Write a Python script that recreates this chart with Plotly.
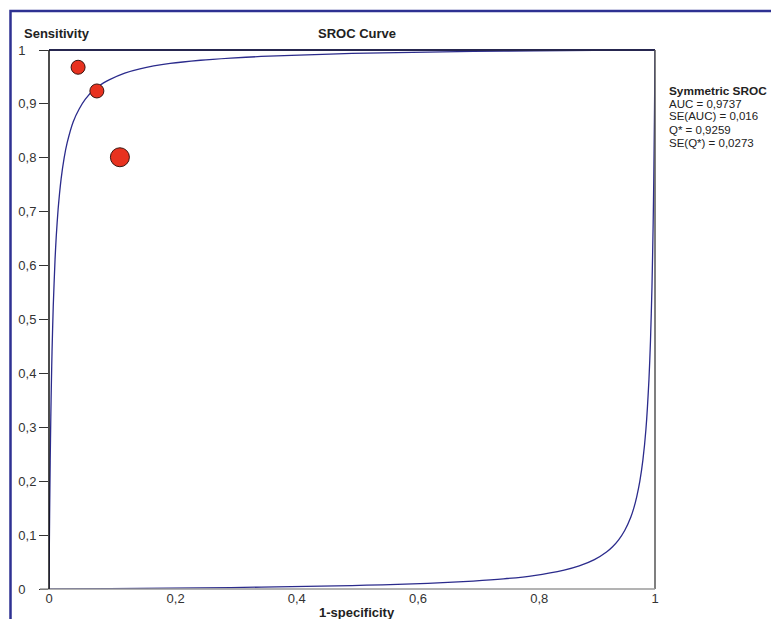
import plotly.graph_objects as go

# Study points (1-specificity, sensitivity, marker size)
study_fpr = [0.048, 0.079, 0.117]
study_sens = [0.968, 0.924, 0.801]
study_size = [14, 14, 19]

# Symmetric SROC curve
curve_fpr = [0.0, 0.0005, 0.001, 0.002, 0.003, 0.004, 0.005, 0.007, 0.01, 0.012, 0.015,
             0.02, 0.025, 0.03, 0.04, 0.05, 0.06, 0.075, 0.09, 0.1, 0.125, 0.15,
             0.2, 0.25, 0.3, 0.35, 0.4, 0.5, 0.6, 0.7, 0.8, 0.9, 1.0]
curve_sens = [0.0, 0.072, 0.135, 0.238, 0.320, 0.385, 0.440, 0.524, 0.612, 0.655, 0.704,
              0.761, 0.800, 0.828, 0.867, 0.891, 0.909, 0.927, 0.939, 0.945, 0.957, 0.965,
              0.975, 0.981, 0.985, 0.988, 0.990, 0.9936, 0.9957, 0.9973, 0.9984, 0.9993, 1.0]

# Mirror branch in the lower right
low_fpr = [0.0, 0.1, 0.2, 0.3, 0.4, 0.5, 0.55, 0.6, 0.65, 0.7, 0.75, 0.8, 0.85, 0.875,
           0.9, 0.92, 0.93, 0.94, 0.95, 0.96, 0.965, 0.97, 0.975, 0.98, 0.985, 0.99,
           0.9925, 0.995, 0.997, 0.998, 0.999, 0.9995, 1.0]
low_sens = [0.0, 0.0007, 0.0016, 0.0027, 0.0043, 0.0064, 0.0078, 0.0095, 0.0118, 0.0147,
            0.0188, 0.025, 0.0351, 0.0429, 0.0545, 0.0686, 0.0784, 0.0912, 0.1085, 0.133,
            0.150, 0.172, 0.200, 0.239, 0.296, 0.388, 0.459, 0.560, 0.680, 0.762, 0.865,
            0.928, 1.0]

NB = "\u00a0"
x_ticks = [0, 0.2, 0.4, 0.6, 0.8, 1]
x_labels = ["0", NB * 3 + "0,2", NB * 3 + "0,4", NB * 3 + "0,6", NB * 3 + "0,8", "1"]
y_ticks = [0, 0.1, 0.2, 0.3, 0.4, 0.5, 0.6, 0.7, 0.8, 0.9, 1]
y_labels = ["0" + NB * 3, "0,1", "0,2", "0,3", "0,4", "0,5", "0,6", "0,7", "0,8", "0,9",
            "1" + NB * 3]

legend_title = "Symmetric SROC"
legend_lines = ["AUC = 0,9737", "SE(AUC) = 0,016", "Q* = 0,9259", "SE(Q*) = 0,0273"]

NAVY = "#2B2B8C"
FONT = "Liberation Sans, Arial, sans-serif"
TXT = "#222222"

fig = go.Figure()
fig.add_trace(go.Scatter(x=curve_fpr, y=curve_sens, mode="lines",
                         line=dict(color=NAVY, width=1.3, shape="spline", smoothing=0.6),
                         hoverinfo="skip"))
fig.add_trace(go.Scatter(x=low_fpr, y=low_sens, mode="lines",
                         line=dict(color=NAVY, width=1.3, shape="spline", smoothing=0.6),
                         hoverinfo="skip"))
fig.add_trace(go.Scatter(x=study_fpr, y=study_sens, mode="markers", cliponaxis=False,
                         opacity=1,
                         marker=dict(size=study_size, color="#E8321F", opacity=1,
                                     line=dict(color="#3a1510", width=1))))

# plot area pixels: x 49..655, y 50..589
L, R, T, B = 49, 655, 50, 589
W, H = R - L, B - T
def px(x):
    return (x - L) / W
def py(y):
    return (B - y) / H

shapes = [
    dict(type="rect", xref="paper", yref="paper", x0=px(10.5), x1=px(790), y0=py(640), y1=py(11),
         line=dict(color="#2E3192", width=2.5), layer="below"),
    dict(type="line", xref="paper", yref="paper", x0=0, x1=1, y0=1, y1=1,
         line=dict(color="#26264f", width=2)),
    dict(type="line", xref="paper", yref="paper", x0=1, x1=1, y0=0, y1=1,
         line=dict(color="#555555", width=1.5)),
    dict(type="line", xref="paper", yref="paper", x0=px(40), x1=1, y0=0, y1=0,
         line=dict(color="#9a9a9a", width=1.5)),
    dict(type="line", xref="paper", yref="paper", x0=0, x1=0, y0=0, y1=1,
         line=dict(color="#111111", width=1.5)),
]

annotations = [
    dict(text="<b>SROC Curve</b>", xref="paper", yref="paper", x=px(356.5), y=py(33),
         showarrow=False, font=dict(size=13, color=TXT, family=FONT), xanchor="center", yanchor="middle"),
    dict(text="<b>Sensitivity</b>", xref="paper", yref="paper", x=px(22), y=py(34),
         showarrow=False, font=dict(size=13, color=TXT, family=FONT), xanchor="left", yanchor="middle"),
    dict(text="<b>1-specificity</b>", xref="paper", yref="paper", x=px(357), y=py(613),
         showarrow=False, font=dict(size=13, color=TXT, family=FONT), xanchor="center", yanchor="middle"),
    dict(text="<b>" + legend_title + "</b>", xref="paper", yref="paper", x=px(667), y=py(90.5),
         showarrow=False, font=dict(size=11.8, color=TXT, family=FONT), xanchor="left", yanchor="middle"),
]
for i, t in enumerate(legend_lines):
    annotations.append(dict(text=t, xref="paper", yref="paper", x=px(667), y=py(103.5 + 13 * i),
                            showarrow=False, font=dict(size=11.5, color=TXT, family=FONT),
                            xanchor="left", yanchor="middle"))

fig.update_layout(
    width=771, height=619,
    margin=dict(l=L, r=771 - R, t=T, b=619 - B),
    paper_bgcolor="white", plot_bgcolor="white",
    showlegend=False,
    shapes=shapes, annotations=annotations,
    font=dict(family=FONT, size=13, color="#333333"),
    xaxis=dict(range=[0, 1], tickvals=x_ticks, ticktext=x_labels, showgrid=False, zeroline=False,
               showline=False, ticks="", tickfont=dict(size=13, color="#333333"), fixedrange=True),
    yaxis=dict(range=[0, 1], tickvals=y_ticks, ticktext=y_labels, showgrid=False, zeroline=False,
               showline=False, ticks="outside", ticklen=9, tickcolor="#333333", tickwidth=1,
               tickfont=dict(size=13, color="#333333"), fixedrange=True),
)

fig.write_html("out.html")
